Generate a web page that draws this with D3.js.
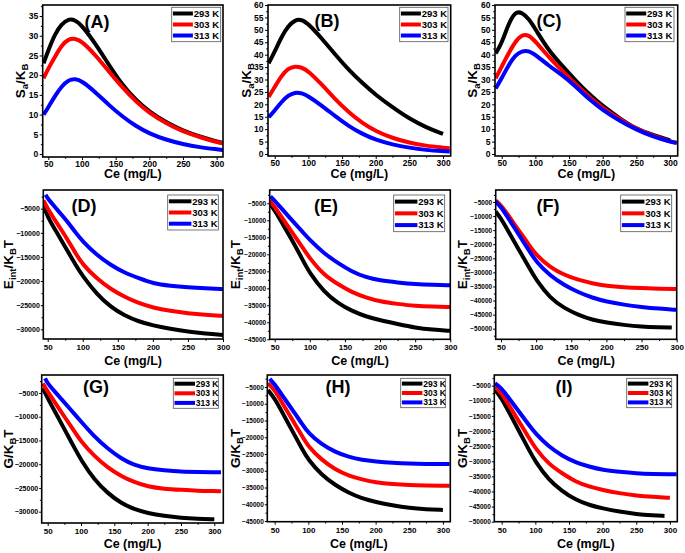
<!DOCTYPE html>
<html><head><meta charset="utf-8">
<script src="https://cdn.jsdelivr.net/npm/d3@7"></script>
<style>
body{margin:0;background:#fff}
svg{display:block}
text{font-family:Arial,"Liberation Sans",sans-serif;font-weight:bold;fill:#000}
</style>
</head><body>
<svg id="c" width="685" height="553"></svg>
<script>
// ---------- DATA ----------
const temps = ["293 K", "303 K", "313 K"];
const colors = ["#000000", "#ff0000", "#0000ff"];
const xTickVals = [50, 100, 150, 200, 250, 300];

// Panel A (Sa/KB)
const ceA = [43,50,60,70,80,90,100,120,140,160,180,200,225,250,275,300,310];
const saA293 = [23,26.3,30.5,33,34.3,34,32.6,28,22.6,17.5,13.7,10.7,8,5.9,4.4,3.2,2.8];
const saA303 = [19.2,21.7,24.7,27.6,29.2,29.3,28.6,25.1,20.9,16.9,13.3,10.4,7.8,5.7,4.3,3.0,2.7];
const saA313 = [10,11.8,14.8,17.2,18.8,19.1,18.5,15.7,12.4,9.5,7.1,5.2,3.6,2.5,1.7,1.2,1.0];
// Panel B
const ceB = [41,50,60,70,80,90,100,120,140,160,180,200,225,250,275,300,310];
const saB293 = [36.5,41.2,47.2,51.5,54,54.2,52.4,46.5,40,33.8,28.6,23.8,18.8,14.2,10.7,8.1];
const saB303 = [23,27,31.5,34.5,35.4,34.9,33.4,28,22,16.8,12.5,9.2,6.4,4.5,3.3,2.6,2.3];
const saB313 = [14.8,17.5,21,23.6,24.8,24.6,23.3,19.5,15.2,11.2,8.1,5.7,3.8,2.5,1.6,1.1,1.0];
// Panel C
const ceC = [41,50,60,70,80,90,100,120,140,160,180,200,225,250,275,300,310];
const saC293 = [40.5,44.6,52.4,57.4,57,54.5,50.3,41.5,35.5,29.5,24,19.3,14.4,10,7.6,5.5];
const saC303 = [30.5,35.2,40.5,45.2,48.1,48,45.4,39,33.5,28,23,18.5,14,10,7.3,5,4.6];
const saC313 = [26.4,30.5,35.8,39.8,41.5,41.6,40,35.5,31.8,27.2,22,17.7,13.4,9.8,7,5,4.4];

// Panel D (Eint/KBT)
const ceD293 = [44,50,60,70,80,90,100,120,140,160,180,200,225,250,275,300];
const ceD303 = [44,50,60,70,80,90,100,120,140,160,180,200,225,250,275,300];
const ceD313 = [47,50,60,70,80,90,100,120,140,160,180,200,225,250,275,300];
const eD293 = [-4400,-6700,-9200,-11700,-14200,-16700,-19000,-22700,-25400,-27200,-28400,-29200,-29900,-30500,-30900,-31200];
const eD303 = [-3300,-5000,-7300,-9500,-11800,-14300,-16600,-19500,-21700,-23300,-24600,-25500,-26200,-26700,-27000,-27200];
const eD313 = [-2100,-2900,-4600,-6300,-8000,-10000,-11800,-14600,-16700,-18300,-19400,-20500,-21000,-21300,-21500,-21650];
// Panel E
const ceE293 = [43,50,60,70,80,90,100,120,140,160,180,200,225,250,275,300];
const ceE303 = [43,50,60,70,80,90,100,120,140,160,180,200,225,250,275,300];
const ceE313 = [44,50,60,70,80,90,100,120,140,160,180,200,225,250,275,300];
const eE293 = [-5200,-7000,-10600,-14200,-17800,-21700,-25600,-31000,-34400,-36700,-38300,-39400,-40500,-41600,-42200,-42500];
const eE303 = [-4200,-6000,-9100,-12100,-15100,-18100,-21200,-26100,-28800,-31200,-32700,-33900,-34600,-35200,-35400,-35500];
const eE313 = [-3000,-4200,-6600,-8900,-11200,-13500,-15800,-19700,-22600,-25100,-26800,-27700,-28300,-28800,-29000,-29100];
// Panel F
const ceF293 = [42.5,50,60,70,80,90,100,120,140,160,180,200,225,250,275,293];
const ceF303 = [42.5,50,60,70,80,90,100,120,140,160,180,200,225,250,275,300];
const ceF313 = [42.5,50,60,70,80,90,100,120,140,160,180,200,225,250,275,300];
const eF293 = [-8400,-10800,-15200,-19600,-23900,-28300,-32700,-39200,-42700,-45100,-46900,-47800,-48700,-49300,-49500,-49600];
const eF303 = [-4500,-6100,-9600,-13200,-16700,-20300,-23800,-28200,-30900,-32700,-33900,-34800,-35300,-35600,-35800,-35900];
const eF313 = [-4900,-6700,-10600,-14500,-18400,-22300,-26200,-31200,-34500,-37100,-39000,-40400,-41500,-42300,-42900,-43300];

// Panel G (G/KBT)
const ceG293 = [42.6,50,60,70,80,90,100,120,140,160,180,200,225,250,275,300];
const ceG303 = [42.6,50,60,70,80,90,100,120,140,160,180,200,225,250,275,300,310];
const ceG313 = [46,50,60,70,80,90,100,120,140,160,180,200,225,250,275,300,310];
const gG293 = [-4000,-6100,-8700,-11300,-13900,-16500,-19100,-23300,-26100,-28200,-29500,-30300,-30900,-31300,-31500,-31600];
const gG303 = [-3000,-4700,-6800,-8900,-11000,-13100,-15200,-18300,-20700,-22500,-23800,-24700,-25200,-25400,-25600,-25650,-25700];
const gG313 = [-1900,-3000,-4600,-6200,-7800,-9400,-11000,-14200,-16700,-18800,-20200,-20900,-21300,-21600,-21650,-21700,-21700];
// Panel H
const ceH293 = [40,50,60,70,80,90,100,120,140,160,180,200,225,250,275,300];
const ceH303 = [40,50,60,70,80,90,100,120,140,160,180,200,225,250,275,300,310];
const ceH313 = [42.6,50,60,70,80,90,100,120,140,160,180,200,225,250,275,300,310];
const gH293 = [-5900,-8400,-12100,-15800,-19500,-23200,-26800,-31300,-34300,-36600,-38300,-39300,-40300,-41100,-41500,-41700];
const gH303 = [-3900,-5900,-9300,-12700,-16000,-19400,-22800,-26800,-29600,-31500,-32600,-33500,-34000,-34300,-34400,-34500,-34500];
const gH313 = [-2600,-4200,-7100,-10000,-12900,-15800,-18800,-22200,-24400,-25900,-26800,-27200,-27600,-27900,-28000,-28000,-28000];
// Panel I
const ceI293 = [40,50,60,70,80,90,100,120,140,160,180,200,225,250,275,292];
const ceI303 = [40,50,60,70,80,90,100,120,140,160,180,200,225,250,275,300];
const ceI313 = [40,50,60,70,80,90,100,120,140,160,180,200,225,250,275,300,310];
const gI293 = [-6400,-9200,-13400,-17600,-21800,-26000,-30100,-36200,-39900,-42800,-44500,-45600,-46700,-47500,-47900,-48100];
const gI303 = [-5300,-7500,-11100,-14800,-18400,-22100,-25700,-31000,-34000,-36800,-38400,-39500,-40600,-41400,-41800,-42100];
const gI313 = [-4200,-5900,-8900,-11900,-14900,-17800,-20800,-25200,-28200,-30400,-31800,-32900,-33500,-34000,-34200,-34300,-34300];

// ---------- LAYOUT ----------
const svg = d3.select("#c");
const panels = [
  {k:"A", l:42.7,r:223,t:5,b:157, xd:[41.7,309.4], yd:[-0.76,37.8], yt:d3.range(0,36,5), ty:"S",
   xs:[ceA,ceA,ceA], ys:[saA293,saA303,saA313], lab:[97,22], leg:[171.7,7.3,49,34.4], row:1, ytx:25},
  {k:"B", l:268,r:450.7,t:5,b:156, xd:[40,311.4], yd:[-0.8,60], yt:d3.range(0,61,5), ty:"S",
   xs:[ceB,ceB,ceB], ys:[saB293,saB303,saB313], lab:[327,21], leg:[399.7,7.3,48.3,34.4], row:1, ytx:250.5},
  {k:"C", l:495,r:677.7,t:5,b:156, xd:[40,311.4], yd:[-0.8,60], yt:d3.range(0,61,5), ty:"S",
   xs:[ceC,ceC,ceC], ys:[saC293,saC303,saC313], lab:[549,21], leg:[625,7.3,49,34.4], row:1, ytx:477},
  {k:"D", l:43.3,r:223,t:190,b:339, xd:[43.7,300], yd:[-32010,-1124], yt:d3.range(-30000,-4999,5000), ty:"E",
   xs:[ceD293,ceD303,ceD313], ys:[eD293,eD303,eD313], lab:[84,206], leg:[167.7,195,50.6,35], row:2, ytx:12.5},
  {k:"E", l:269.7,r:450.3,t:190,b:339.3, xd:[42.9,300], yd:[-45000,-1090], yt:d3.range(-45000,-4999,5000), ty:"E",
   xs:[ceE293,ceE303,ceE313], ys:[eE293,eE303,eE313], lab:[326,206], leg:[393.7,195,51,36.7], row:2, ytx:239.5},
  {k:"F", l:495.7,r:676.7,t:190,b:339.3, xd:[42.5,300], yd:[-53770,-737], yt:d3.range(-50000,-4999,5000), ty:"E",
   xs:[ceF293,ceF303,ceF313], ys:[eF293,eF303,eF313], lab:[548,206], leg:[620.7,195,51,36.7], row:2, ytx:466.5},
  {k:"G", l:41.7,r:223.3,t:375,b:523, xd:[41,313.5], yd:[-32380,-1208], yt:d3.range(-30000,-4999,5000), ty:"G",
   xs:[ceG293,ceG303,ceG313], ys:[gG293,gG303,gG313], lab:[96,387], leg:[173.3,378.3,45,30], row:3, ytx:12.5},
  {k:"H", l:267.3,r:450.3,t:375,b:521.7, xd:[39,311], yd:[-45200,-1418], yt:d3.range(-45000,-4999,5000), ty:"G",
   xs:[ceH293,ceH303,ceH313], ys:[gH293,gH303,gH313], lab:[338,387], leg:[400.7,378.3,44.6,29.4], row:3, ytx:239.5},
  {k:"I", l:494.3,r:677.3,t:375,b:521.7, xd:[39,311], yd:[-50000,-1460], yt:d3.range(-50000,-4999,5000), ty:"G",
   xs:[ceI293,ceI303,ceI313], ys:[gI293,gI303,gI313], lab:[564,387], leg:[626.7,378.3,45,29.4], row:3, ytx:467}
];

function yTitle(g, type, x, y) {
  const t = g.append("text").attr("transform", `translate(${x},${y}) rotate(-90)`)
    .attr("text-anchor", "middle").style("font-size", "13.5px");
  const sub = (s) => t.append("tspan").attr("dy", 3).style("font-size", "9.5px").text(s);
  const up = (s) => t.append("tspan").attr("dy", -3).text(s);
  if (type === "S") { t.append("tspan").text("S"); sub("a"); up("/K"); sub("B"); }
  else if (type === "E") { t.append("tspan").text("E"); sub("int"); up("/K"); sub("B"); up("T"); }
  else { t.append("tspan").text("G/K"); sub("B"); up("T"); }
}

panels.forEach((p) => {
  const g = svg.append("g");
  const x = d3.scaleLinear().domain(p.xd).range([p.l, p.r]);
  const y = d3.scaleLinear().domain(p.yd).range([p.b, p.t]);
  const cid = "clip" + p.k;
  g.append("clipPath").attr("id", cid).append("rect")
    .attr("x", p.l).attr("y", p.t).attr("width", p.r - p.l).attr("height", p.b - p.t);

  const line = d3.line().x(d => x(d[0])).y(d => y(d[1])).curve(d3.curveBasis);
  [0, 1, 2].forEach(i => {
    const pts = p.xs[i].map((xv, j) => [xv, p.ys[i][j]]).filter(d => d[1] !== undefined);
    g.append("path").attr("d", line(pts)).attr("fill", "none")
      .attr("stroke", colors[i]).attr("stroke-width", 4).attr("clip-path", `url(#${cid})`);
  });

  const xFont = p.row === 1 ? 8.5 : 8;
  const yFont = p.row === 1 ? 8.5 : (p.k === "D" || p.k === "G" ? 7 : 6.5);
  const xMinor = d3.range(25, 326, 25).filter(v => v >= p.xd[0] && v <= p.xd[1] && v % 50 !== 0);
  const ystep = p.yt[1] - p.yt[0];
  const yMinor = d3.range(p.yt[0] - ystep / 2, p.yd[1], ystep / 2)
    .filter(v => v >= p.yd[0] && v <= p.yd[1] && !p.yt.includes(v));
  g.append("g").attr("transform", `translate(0,${p.b})`)
    .call(d3.axisBottom(x).tickValues(xMinor).tickSize(1.8).tickFormat(""))
    .call(a => a.select(".domain").remove());
  g.append("g").attr("transform", `translate(${p.l},0)`)
    .call(d3.axisLeft(y).tickValues(yMinor).tickSize(1.8).tickFormat(""))
    .call(a => a.select(".domain").remove());

  const xa = g.append("g").attr("transform", `translate(0,${p.b})`)
    .call(d3.axisBottom(x).tickValues(xTickVals.filter(v => v <= p.xd[1])).tickSize(3)
      .tickPadding(p.row === 1 ? 0.5 : 2.5).tickFormat(d3.format("d")));
  xa.select(".domain").remove();
  xa.selectAll("text").style("font-size", xFont + "px").style("font-family", "Arial, sans-serif");
  const ya = g.append("g").attr("transform", `translate(${p.l},0)`)
    .call(d3.axisLeft(y).tickValues(p.yt).tickSize(p.row === 1 ? 3 : 2.5)
      .tickPadding(p.row === 1 ? 1.5 : 1).tickFormat(d3.format("d")));
  ya.select(".domain").remove();
  ya.selectAll("text").style("font-size", yFont + "px").style("font-family", "Arial, sans-serif");
  g.selectAll(".tick line").attr("stroke", "#000").attr("stroke-width", 1);

  g.append("rect").attr("x", p.l).attr("y", p.t).attr("width", p.r - p.l).attr("height", p.b - p.t)
    .attr("fill", "none").attr("stroke", "#000").attr("stroke-width", 1.6);

  g.append("text").attr("x", p.lab[0]).attr("y", p.lab[1]).attr("dy", "0.36em")
    .attr("text-anchor", "middle").style("font-size", "18px").text(`(${p.k})`);

  const [lx, ly, lw, lh] = p.leg;
  g.append("rect").attr("x", lx).attr("y", ly).attr("width", lw).attr("height", lh)
    .attr("fill", "#fff").attr("stroke", "#555").attr("stroke-width", 0.8);
  const lf = p.row === 3 ? 8.5 : 9.5;
  const lineLen = p.row === 3 ? 20.5 : (p.row === 2 ? 22.5 : 20);
  temps.forEach((tname, i) => {
    const ry = ly + lh * (0.18 + i * 0.32);
    g.append("line").attr("x1", lx + 1.2).attr("x2", lx + 1.2 + lineLen).attr("y1", ry).attr("y2", ry)
      .attr("stroke", colors[i]).attr("stroke-width", 4);
    g.append("text").attr("x", lx + 2 + lineLen).attr("y", ry).attr("dy", "0.35em")
      .style("font-size", lf + "px").text(tname);
  });

  const xb = p.row === 1 ? 178 : (p.row === 2 ? 365 : 548);
  g.append("text").attr("x", (p.l + p.r) / 2).attr("y", xb).attr("text-anchor", "middle")
    .style("font-size", "12.5px").text("Ce (mg/L)");
  yTitle(g, p.ty, p.ytx, (p.t + p.b) / 2);
});
</script>
</body></html>
